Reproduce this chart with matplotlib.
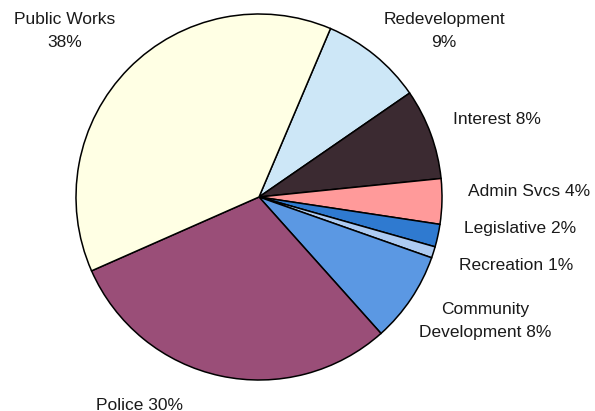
import matplotlib
matplotlib.use("Agg")
import matplotlib.pyplot as plt

# Budget shares by department (percent), clockwise from the top
departments = ["Redevelopment", "Interest", "Admin Svcs", "Legislative",
               "Recreation", "Community Development", "Police", "Public Works"]
shares = [9, 8, 4, 2, 1, 8, 30, 38]
labels = ["Redevelopment\n9%", "Interest 8%", "Admin Svcs 4%", "Legislative 2%",
          "Recreation 1%", "Community\nDevelopment 8%", "Police 30%",
          "Public Works\n38%"]
colors = ["#CDE7F7", "#3B2A31", "#FF9A9A", "#2F7AD0",
          "#ADCBF2", "#5B98E3", "#9A4E78", "#FFFFE4"]

W, H = 595, 411
cx, cy, r = 259, 197, 183

fig = plt.figure(figsize=(W / 100, H / 100), dpi=100)
ax = fig.add_axes([0, 0, 1, 1])
ax.pie(shares, colors=colors, startangle=67, counterclock=False,
       radius=1.0, center=(0, 0),
       wedgeprops=dict(edgecolor="black", linewidth=1.1))
ax.set_xlim(-cx / r, (W - cx) / r)
ax.set_ylim((cy - H) / r, cy / r)
ax.set_aspect("equal", adjustable="datalim")
ax.axis("off")

# label anchor points in pixel space, converted to data units
label_pos = [(444, 31), (497, 120), (529, 191), (520, 228),
             (516, 265), (485, 321), (140, 405), (65, 31)]
for text, (px, py) in zip(labels, label_pos):
    ax.text((px - cx) / r, (cy - py) / r, text, ha="center", va="center",
            fontsize=12.5, family="Liberation Sans", color="#1a1a1a",
            linespacing=1.65)

fig.savefig("out.png", dpi=100)
